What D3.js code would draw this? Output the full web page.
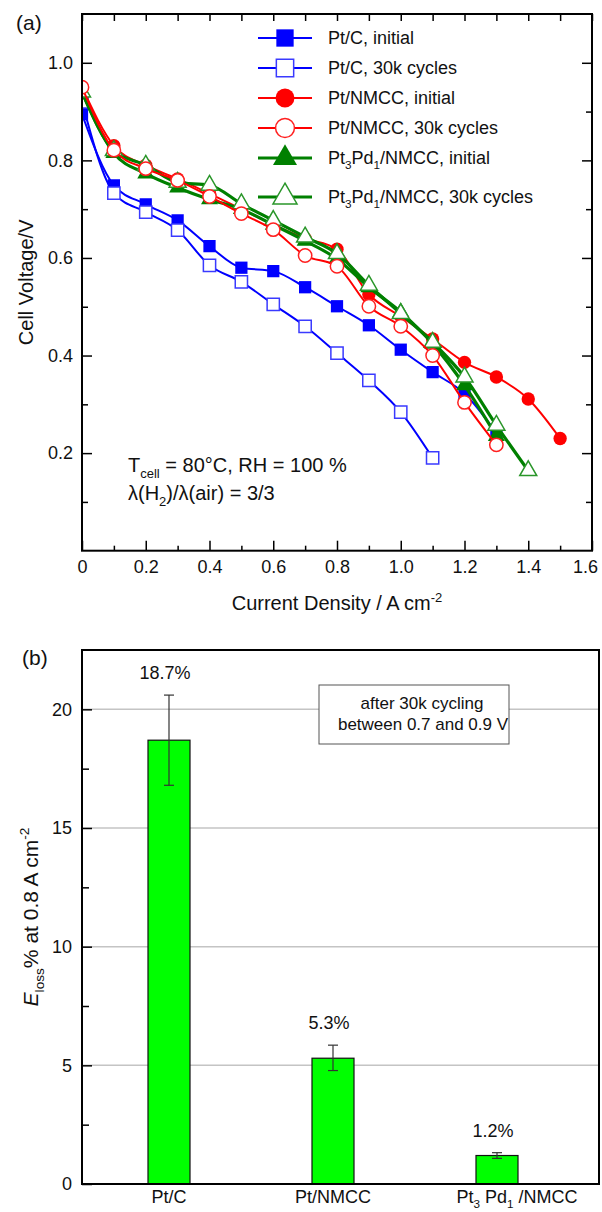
<!DOCTYPE html>
<html>
<head>
<meta charset="utf-8">
<script src="https://cdn.jsdelivr.net/npm/d3@7"></script>
<style>
  body { margin: 0; background: #fff; }
  svg { font-family: "Liberation Sans", Arial, sans-serif; }
</style>
</head>
<body>
<div id="chart"></div>
<script>
// ---- panel (a) data: cell voltage vs current density ----
var currentDensity = [0, 0.1, 0.2, 0.3, 0.4, 0.5, 0.6, 0.7, 0.8, 0.9, 1.0, 1.1, 1.2, 1.3, 1.4, 1.5];
var ptcInitial    = [0.895, 0.749, 0.710, 0.677, 0.624, 0.580, 0.573, 0.540, 0.501, 0.462, 0.412, 0.366, 0.322, 0.241];
var ptc30k        = [0.920, 0.733, 0.694, 0.657, 0.585, 0.551, 0.505, 0.460, 0.405, 0.349, 0.284, 0.190];
var ptnmccInitial = [0.950, 0.830, 0.790, 0.762, 0.732, 0.700, 0.668, 0.640, 0.618, 0.525, 0.480, 0.434, 0.386, 0.356, 0.311, 0.230];
var ptnmcc30k     = [0.950, 0.821, 0.783, 0.759, 0.726, 0.691, 0.658, 0.605, 0.583, 0.501, 0.460, 0.400, 0.304, 0.217];
var ptpdInitial   = [0.940, 0.815, 0.773, 0.744, 0.720, 0.700, 0.668, 0.635, 0.598, 0.540, 0.489, 0.424, 0.339, 0.235];
var ptpd30k       = [0.940, 0.820, 0.790, 0.755, 0.749, 0.711, 0.677, 0.643, 0.609, 0.544, 0.486, 0.427, 0.356, 0.257, 0.164];
var seriesNames = ["Pt/C, initial", "Pt/C, 30k cycles", "Pt/NMCC, initial", "Pt/NMCC, 30k cycles",
                   "Pt_3Pd_1/NMCC, initial", "Pt_3Pd_1/NMCC, 30k cycles"];
var xMajor = [0, 0.2, 0.4, 0.6, 0.8, 1.0, 1.2, 1.4, 1.6];
var xMinor = [0.1, 0.3, 0.5, 0.7, 0.9, 1.1, 1.3, 1.5];
var yMajor = [0.2, 0.4, 0.6, 0.8, 1.0];
var yMinor = [0.1, 0.3, 0.5, 0.7, 0.9];

// ---- panel (b) data: voltage loss at 0.8 A cm-2 ----
var catalysts = ["Pt/C", "Pt/NMCC", "Pt_3 Pd_1 /NMCC"];
var eloss     = [18.7, 5.3, 1.2];
var errLow    = [16.8, 4.78, 1.08];
var errHigh   = [20.6, 5.85, 1.32];
var barLabels = ["18.7%", "5.3%", "1.2%"];
var bMajor = [0, 5, 10, 15, 20];
var bMinor = [2.5, 7.5, 12.5, 17.5];

var svgWidth = 602;
var svgHeight = 1212;

var svg = d3.select("#chart")
  .append("svg")
  .attr("width", svgWidth)
  .attr("height", svgHeight);

// writes text with _sub and ^sup pieces as tspans
function richText(sel, str, size) {
  var bits = str.split(/([_^])(-?[a-z0-9]+)/);
  var shift = 0;
  for (var i = 0; i < bits.length; i += 3) {
    if (bits[i] !== "") {
      sel.append("tspan").attr("dy", -shift).attr("font-size", size).text(bits[i]);
      shift = 0;
    }
    if (i + 2 < bits.length) {
      var want = bits[i + 1] === "_" ? size * 0.3 : -size * 0.42;
      sel.append("tspan")
        .attr("dy", want - shift)
        .attr("font-size", size * 0.65)
        .text(bits[i + 2]);
      shift = want;
    }
  }
  return sel;
}

function styleAxis(g, size) {
  g.attr("font-family", null).attr("font-size", size);
  g.select(".domain").remove();
  g.selectAll(".tick line").attr("stroke", "#000").attr("stroke-width", 1.5);
  g.selectAll(".tick text").attr("fill", "#111");
}

// =================== panel (a) ===================
var ax = { left: 82, right: 592, top: 14, bottom: 550.7 };

var xScale = d3.scaleLinear().domain([0, 1.6]).range([ax.left, ax.right]);
var yScale = d3.scaleLinear().domain([0, 1.1]).range([ax.bottom, ax.top]);

var gA = svg.append("g");

// axes, ticks pointing inward on all sides
gA.append("g")
  .attr("transform", `translate(0, ${ax.bottom})`)
  .call(d3.axisBottom(xScale).tickValues(xMajor).tickSize(-10).tickPadding(10)
    .tickFormat(d => d === 0 ? "0" : d3.format(".1f")(d)))
  .call(g => styleAxis(g, 18))
  .call(g => g.selectAll(".tick text").filter(d => d === 1.6).attr("dx", -7));
gA.append("g")
  .attr("transform", `translate(0, ${ax.bottom})`)
  .call(d3.axisBottom(xScale).tickValues(xMinor).tickSize(-5).tickFormat(""))
  .call(g => styleAxis(g, 18));
gA.append("g")
  .attr("transform", `translate(0, ${ax.top})`)
  .call(d3.axisTop(xScale).tickValues(xMajor.concat(xMinor)).tickSize(-7).tickFormat(""))
  .call(g => styleAxis(g, 18));

gA.append("g")
  .attr("transform", `translate(${ax.left}, 0)`)
  .call(d3.axisLeft(yScale).tickValues(yMajor).tickSize(-10).tickPadding(9).tickFormat(d3.format(".1f")))
  .call(g => styleAxis(g, 18));
gA.append("g")
  .attr("transform", `translate(${ax.left}, 0)`)
  .call(d3.axisLeft(yScale).tickValues(yMinor).tickSize(-6).tickFormat(""))
  .call(g => styleAxis(g, 18));
gA.append("g")
  .attr("transform", `translate(${ax.right}, 0)`)
  .call(d3.axisRight(yScale).tickValues(yMajor).tickSize(-10).tickFormat(""))
  .call(g => styleAxis(g, 18));
gA.append("g")
  .attr("transform", `translate(${ax.right}, 0)`)
  .call(d3.axisRight(yScale).tickValues(yMinor).tickSize(-6).tickFormat(""))
  .call(g => styleAxis(g, 18));

// clip so edge markers are cut by the frame
svg.append("defs").append("clipPath").attr("id", "clipA")
  .append("rect")
  .attr("x", ax.left).attr("y", ax.top)
  .attr("width", ax.right - ax.left).attr("height", ax.bottom - ax.top);

var series = [
  { name: seriesNames[0], values: ptcInitial,    color: "#0000ff", stroke: "#0000ff", width: 2,   shape: d3.symbolSquare,   size: 150, filled: true },
  { name: seriesNames[1], values: ptc30k,        color: "#0000ff", stroke: "#3a3aff", width: 2,   shape: d3.symbolSquare,   size: 150, filled: false },
  { name: seriesNames[2], values: ptnmccInitial, color: "#ff0000", stroke: "#ff0000", width: 2,   shape: d3.symbolCircle,   size: 140, filled: true },
  { name: seriesNames[4], values: ptpdInitial,   color: "#008000", stroke: "#008000", width: 3.2, shape: d3.symbolTriangle, size: 125, filled: true },
  { name: seriesNames[5], values: ptpd30k,       color: "#008000", stroke: "#2a962a", width: 3.2, shape: d3.symbolTriangle, size: 125, filled: false },
  { name: seriesNames[3], values: ptnmcc30k,     color: "#ff0000", stroke: "#ff2020", width: 2,   shape: d3.symbolCircle,   size: 140, filled: false }
];

var line = d3.line()
  .x((d, i) => xScale(currentDensity[i]))
  .y(d => yScale(d))
  .curve(d3.curveMonotoneX);

var plotA = gA.append("g").attr("clip-path", "url(#clipA)");

series.forEach(function(s) {
  var g = plotA.append("g");
  g.append("path")
    .datum(s.values)
    .attr("d", line)
    .attr("fill", "none")
    .attr("stroke", s.color)
    .attr("stroke-width", s.width);
  g.selectAll("path.mark")
    .data(s.values)
    .enter()
    .append("path")
    .attr("class", "mark")
    .attr("transform", (d, i) => `translate(${xScale(currentDensity[i])}, ${yScale(d)})`)
    .attr("d", d3.symbol().type(s.shape).size(s.size))
    .attr("fill", s.filled ? s.color : "#fff")
    .attr("stroke", s.stroke)
    .attr("stroke-width", s.filled ? 0 : 1.5);
});

// frame
gA.append("rect")
  .attr("x", ax.left).attr("y", ax.top)
  .attr("width", ax.right - ax.left).attr("height", ax.bottom - ax.top)
  .attr("fill", "none").attr("stroke", "#000").attr("stroke-width", 2);

// legend, in original order
var legendOrder = [0, 1, 2, 5, 3, 4];
var legend = gA.append("g");
legendOrder.forEach(function(k, i) {
  var s = series[k];
  var ly = 38 + i * 30 + (i === 5 ? 9 : 0);
  legend.append("line")
    .attr("x1", 258).attr("x2", 312)
    .attr("y1", ly).attr("y2", ly)
    .attr("stroke", s.color).attr("stroke-width", s.width === 2 ? 2 : 3);
  legend.append("path")
    .attr("transform", `translate(285, ${ly})`)
    .attr("d", d3.symbol().type(s.shape).size(s.size * 2))
    .attr("fill", s.filled ? s.color : "#fff")
    .attr("stroke", s.stroke)
    .attr("stroke-width", s.filled ? 0 : 1.5);
  richText(legend.append("text").attr("x", 328).attr("y", ly + 6).attr("fill", "#111"), s.name, 18);
});

// conditions
richText(gA.append("text").attr("x", 128).attr("y", 472).attr("fill", "#111"), "T_cell = 80°C, RH = 100 %", 20);
richText(gA.append("text").attr("x", 128).attr("y", 500).attr("fill", "#111"), "λ(H_2)/λ(air) = 3/3", 20);

// axis titles
richText(gA.append("text").attr("x", 337).attr("y", 610).attr("text-anchor", "middle").attr("fill", "#111"),
  "Current Density / A cm^-2", 20);
gA.append("text")
  .attr("transform", `translate(33, ${(ax.top + ax.bottom) / 2}) rotate(-90)`)
  .attr("text-anchor", "middle")
  .attr("font-size", 20)
  .attr("fill", "#111")
  .text("Cell Voltage/V");

gA.append("text").attr("x", 16).attr("y", 30).attr("font-size", 21).attr("fill", "#111").text("(a)");

// =================== panel (b) ===================
var bx = { left: 82, right: 599, top: 650, bottom: 1184 };

var xBar = d3.scalePoint().domain(catalysts).range([169, 497]);
var yBar = d3.scaleLinear().domain([0, 22.5]).range([bx.bottom, bx.top]);
var barWidth = 42;

var gB = svg.append("g");

// gridlines
gB.selectAll("line.grid")
  .data(bMajor.slice(1))
  .enter()
  .append("line")
  .attr("class", "grid")
  .attr("x1", bx.left).attr("x2", bx.right)
  .attr("y1", d => yBar(d)).attr("y2", d => yBar(d))
  .attr("stroke", "#c4c4c4").attr("stroke-width", 1.5);

gB.append("g")
  .attr("transform", `translate(${bx.left}, 0)`)
  .call(d3.axisLeft(yBar).tickValues(bMajor).tickSize(-10).tickPadding(10).tickFormat(d3.format("d")))
  .call(g => styleAxis(g, 18));
gB.append("g")
  .attr("transform", `translate(${bx.left}, 0)`)
  .call(d3.axisLeft(yBar).tickValues(bMinor).tickSize(-7).tickFormat(""))
  .call(g => styleAxis(g, 18));

// bars
gB.selectAll("rect.bar")
  .data(eloss)
  .enter()
  .append("rect")
  .attr("class", "bar")
  .attr("x", (d, i) => xBar(catalysts[i]) - barWidth / 2)
  .attr("y", d => yBar(d))
  .attr("width", barWidth)
  .attr("height", d => yBar(0) - yBar(d))
  .attr("fill", "#00ff00")
  .attr("stroke", "#111")
  .attr("stroke-width", 1.2);

// error bars
var errG = gB.selectAll("g.err")
  .data(eloss)
  .enter()
  .append("g")
  .attr("class", "err")
  .attr("stroke", "#333")
  .attr("stroke-width", 1.2);
errG.append("line")
  .attr("x1", (d, i) => xBar(catalysts[i])).attr("x2", (d, i) => xBar(catalysts[i]))
  .attr("y1", (d, i) => yBar(errLow[i])).attr("y2", (d, i) => yBar(errHigh[i]));
errG.append("line")
  .attr("x1", (d, i) => xBar(catalysts[i]) - 5).attr("x2", (d, i) => xBar(catalysts[i]) + 5)
  .attr("y1", (d, i) => yBar(errHigh[i])).attr("y2", (d, i) => yBar(errHigh[i]));
errG.append("line")
  .attr("x1", (d, i) => xBar(catalysts[i]) - 5).attr("x2", (d, i) => xBar(catalysts[i]) + 5)
  .attr("y1", (d, i) => yBar(errLow[i])).attr("y2", (d, i) => yBar(errLow[i]));

// value labels above error bars
gB.selectAll("text.val")
  .data(barLabels)
  .enter()
  .append("text")
  .attr("class", "val")
  .attr("x", (d, i) => xBar(catalysts[i]) - 4)
  .attr("y", (d, i) => yBar(errHigh[i]) - 16)
  .attr("text-anchor", "middle")
  .attr("font-size", 18)
  .attr("fill", "#111")
  .text(d => d);

// category labels
catalysts.forEach(function(c, i) {
  richText(gB.append("text")
    .attr("x", xBar(c) + (i === 2 ? 20 : 0))
    .attr("y", 1203)
    .attr("text-anchor", "middle")
    .attr("fill", "#111"), c, 18);
});

// note box
gB.append("rect")
  .attr("x", 319).attr("y", 685)
  .attr("width", 190).attr("height", 59)
  .attr("fill", "#fff").attr("stroke", "#555").attr("stroke-width", 1);
gB.append("text").attr("x", 422).attr("y", 709).attr("text-anchor", "middle")
  .attr("font-size", 17).attr("fill", "#111").text("after 30k cycling");
gB.append("text").attr("x", 423).attr("y", 730).attr("text-anchor", "middle")
  .attr("font-size", 17).attr("fill", "#111").text("between 0.7 and 0.9 V");

// frame
gB.append("rect")
  .attr("x", bx.left).attr("y", bx.top)
  .attr("width", bx.right - bx.left).attr("height", bx.bottom - bx.top)
  .attr("fill", "none").attr("stroke", "#000").attr("stroke-width", 2);

// y title
var yTitle = gB.append("text")
  .attr("transform", `translate(38, ${(bx.top + bx.bottom) / 2}) rotate(-90)`)
  .attr("text-anchor", "middle")
  .attr("fill", "#111");
richText(yTitle, "E_loss% at 0.8 A cm^-2", 21);
yTitle.select("tspan").attr("font-style", "italic");

gB.append("text").attr("x", 22).attr("y", 665).attr("font-size", 21).attr("fill", "#111").text("(b)");
</script>
</body>
</html>
